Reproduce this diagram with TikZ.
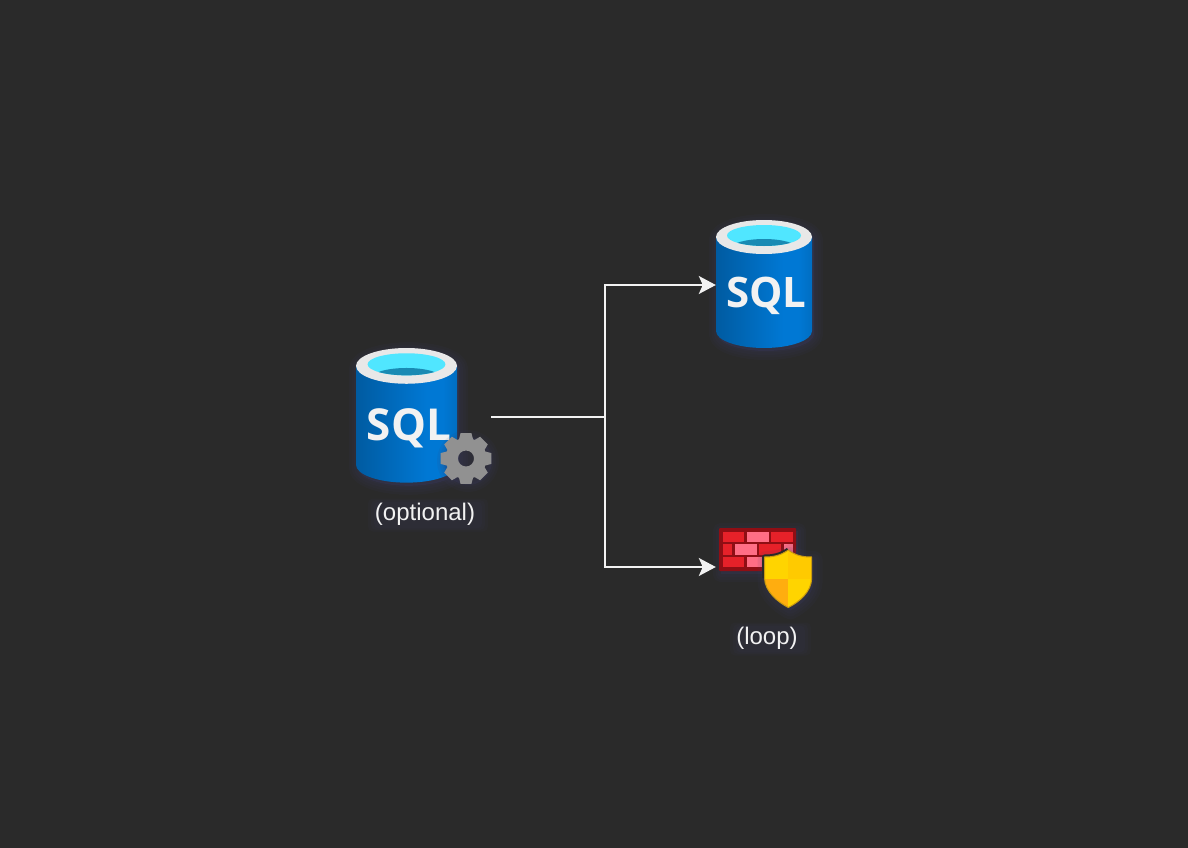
\documentclass[tikz,border=0pt]{standalone}
\usepackage{fontspec}
\setmainfont{Liberation Sans}
\newfontfamily\sqlface{Open Sans}
\usetikzlibrary{arrows.meta}
\definecolor{backdrop}{HTML}{2A2A2A}
\definecolor{haze}{HTML}{3C3C66}
\definecolor{wirewhite}{HTML}{F2F2F2}
\definecolor{sqldark}{HTML}{005BA1}
\definecolor{sqlmid}{HTML}{0078D4}
\definecolor{sqlrim}{HTML}{E8E8E8}
\definecolor{sqlcyan}{HTML}{50E6FF}
\definecolor{sqlwater}{HTML}{198AB3}
\definecolor{fwallred}{HTML}{E62129}
\definecolor{fwallpink}{HTML}{FF6E85}
\definecolor{fwalldark}{HTML}{8F0E14}
\definecolor{shieldgold}{HTML}{FFD400}
\definecolor{shieldmid}{HTML}{FFCA00}
\definecolor{shieldamber}{HTML}{FFAD0F}
\definecolor{shieldedge}{HTML}{C99A10}
\definecolor{geargray}{HTML}{919191}
\pgfdeclarehorizontalshading{sqlside}{100bp}{color(0bp)=(sqldark); color(25bp)=(sqldark); color(60bp)=(sqlmid); color(68bp)=(sqlmid); color(75bp)=(sqlmid!65!sqldark); color(100bp)=(sqlmid!65!sqldark)}
\tikzset{
	wire/.style={draw=wirewhite, line width=1.6pt},
	link/.style={wire, -{Stealth[length=17pt, width=18pt, inset=4pt]}},
	slot/.style={inner sep=0pt, minimum width=#1},
	caption/.style={text=wirewhite, font=\fontsize{24}{28}\selectfont, inner sep=0pt},
	glow/.style={draw=haze, fill=haze, line width=#1, opacity=.09, line join=round},
	brick/.style={fill=#1},
	pics/sqlbarrel/.style={code={
		\foreach \w in {18,13,8,3}
			\draw[glow=\w pt, shift={(2,3)}] (-48,17) arc[start angle=180, end angle=360, x radius=48, y radius=17] -- (48,111) arc[start angle=0, end angle=180, x radius=48, y radius=17] -- cycle;
		\shade[shading=sqlside] (-48,17) -- (48,17) -- (48,111) arc[start angle=0, end angle=180, x radius=48, y radius=17] -- cycle;
		\fill[sqlrim] (0,17) ellipse[x radius=48, y radius=17];
		\fill[sqlcyan] (0,15.5) ellipse[x radius=37, y radius=10.5];
		\begin{scope}
			\clip (0,15.5) ellipse[x radius=37, y radius=10.5];
			\fill[sqlwater] (0,29) ellipse[x radius=34, y radius=10];
		\end{scope}
		\node[anchor=base, text=white!95!black, inner sep=0pt, font=\sqlface\bfseries\fontsize{#1}{#1}\selectfont] (-txt) at (2.3,87.5) {SQL};
	}}
}
\begin{document}
\begin{tikzpicture}[x=1pt, y=-1pt]
	\useasboundingbox (0,0) rectangle (1188,848);
	\fill[backdrop] (0,0) rectangle (1188,848);

	% database icons
	\pic (sqlTop) at (764,220) {sqlbarrel={42}};
	\pic[scale=1.052] (sqlOpt) at (406.5,348) {sqlbarrel={44}};

	% gear on the left database
	\foreach \w in {14,9,4}
		\draw[glow=\w pt, shift={(2,3)}] (466,458) circle[radius=24];
	\fill[geargray, even odd rule, shift={(466,458.5)}]
		(-20:20.5) \foreach \a in {0,45,...,315} {
			-- (\a-20:20.5) -- (\a-12:26) -- (\a+12:26) -- (\a+20:20.5)
		} -- cycle
		(0,0) circle[radius=8];

	% firewall
	\foreach \w in {16,11,6}
		\draw[glow=\w pt, shift={(2,3)}] (719,528) rectangle (796,571);
	\fill[fwalldark, rounded corners=1pt] (719,528) rectangle (796,571);
	\foreach \x/\wd/\col in {723/21/red, 747/22/pink, 771/22/red} {
		\fill[brick=fwall\col] (\x,532) rectangle ++(\wd,10);
		\fill[brick=fwall\col] (\x,557) rectangle ++(\wd,10);
	}
	\foreach \x/\wd/\col in {723/9/red, 735/22/pink, 759/22/red, 784/9/pink}
		\fill[brick=fwall\col] (\x,544) rectangle ++(\wd,11);

	% shield
	\foreach \w in {18,12,7}
		\draw[glow=\w pt, shift={(2,3)}] (788.3,550) .. controls (780,556) and (772,557) .. (764.5,557) -- (764.5,578) .. controls (765,592) and (778,602) .. (788.3,607.5) .. controls (799,602) and (811.5,592) .. (811.7,578) -- (811.7,557) .. controls (804,557) and (796,556) .. (788.3,550) -- cycle;
	\draw[backdrop, line width=5pt, line join=round] (788.3,550) .. controls (780,556) and (772,557) .. (764.5,557) -- (764.5,578);
	\begin{scope}
		\clip (788.3,550) .. controls (780,556) and (772,557) .. (764.5,557) -- (764.5,578) .. controls (765,592) and (778,602) .. (788.3,607.5) .. controls (799,602) and (811.5,592) .. (811.7,578) -- (811.7,557) .. controls (804,557) and (796,556) .. (788.3,550) -- cycle;
		\fill[shieldgold] (764,549) rectangle (788.3,579);
		\fill[shieldmid] (788.3,549) rectangle (812,579);
		\fill[shieldamber] (764,579) rectangle (788.3,608);
		\fill[shieldgold] (788.3,579) rectangle (812,608);
	\end{scope}
	\draw[shieldedge, line width=1pt, line join=round] (788.3,550) .. controls (780,556) and (772,557) .. (764.5,557) -- (764.5,578) .. controls (765,592) and (778,602) .. (788.3,607.5) .. controls (799,602) and (811.5,592) .. (811.7,578) -- (811.7,557) .. controls (804,557) and (796,556) .. (788.3,550) -- cycle;

	% captions
	\foreach \w in {9,6,3}
		\fill[haze, opacity=.08, rounded corners=5pt] (377-\w,503-\w/2) rectangle (479+\w,527+\w/2);
	\foreach \w in {9,6,3}
		\fill[haze, opacity=.08, rounded corners=5pt] (739-\w,627-\w/2) rectangle (802+\w,651+\w/2);
	\node[caption] (optionalText) at (425,514) {(optional)};
	\node[caption] (loopText) at (767,638) {(loop)};

	% connector ends
	\node[slot=135pt, minimum height=134pt] (sqlOptBox) at (423.5,417) {};
	\node[slot=96pt, minimum height=128pt] (sqlTopBox) at (764,285) {};
	\node[slot=96pt, minimum height=80pt] (wallBox) at (764,567) {};
	\coordinate (branch) at (605,417);

	\draw[wire] (sqlOptBox.east) -- (branch);
	\draw[link] (branch) |- (sqlTopBox.west);
	\draw[link] (branch) |- (wallBox.west);
\end{tikzpicture}
\end{document}
